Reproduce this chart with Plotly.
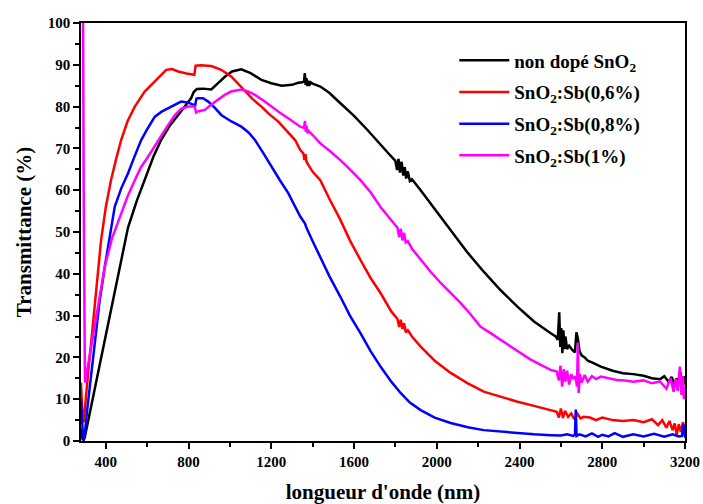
import plotly.graph_objects as go

# ---- data ----
wl_black = [280, 284, 288, 293, 298, 305, 330, 362, 400, 425, 470, 507, 550, 590, 630, 667, 710, 750,
            790, 812, 825, 840, 870, 910, 940, 977, 1010, 1055, 1100, 1152, 1200, 1250, 1300, 1330,
            1350, 1358, 1362, 1366, 1370, 1374, 1378, 1383, 1390, 1400, 1437, 1480, 1534, 1600, 1665,
            1720, 1770, 1800, 1808, 1815, 1822, 1830, 1838, 1845, 1852, 1860, 1870, 1880, 1922, 1990,
            2067, 2150, 2227, 2310, 2391, 2470, 2551, 2575, 2585, 2592, 2597, 2602, 2607, 2612, 2617,
            2622, 2630, 2640, 2655, 2668, 2675, 2682, 2690, 2700, 2715, 2730, 2750, 2793, 2850, 2900,
            2950, 3000, 3040, 3080, 3100, 3120, 3135, 3150, 3160, 3170, 3178, 3186, 3193, 3200]
t_black = [3.0, 1.0, 0.4, 0.3, 0.8, 2.5, 8.5, 16.0, 26.0, 32.0, 42.5, 51.0, 57.5, 63.0, 68.0, 72.0, 75.5, 78.0,
           80.5, 82.0, 83.5, 84.2, 84.3, 84.1, 85.5, 87.2, 88.4, 88.9, 88.0, 86.4, 85.6, 85.0, 85.2, 85.7,
           85.8, 86.0, 88.0, 85.2, 86.8, 84.9, 86.2, 85.0, 85.8, 85.5, 84.8, 83.3, 80.8, 77.8, 74.4,
           71.5, 68.6, 67.0, 64.8, 67.5, 64.2, 66.8, 63.5, 65.5, 62.8, 64.5, 62.2, 62.6, 60.0, 55.5,
           50.5, 45.0, 40.5, 36.0, 32.1, 28.6, 25.8, 25.0, 24.2, 30.8, 22.5, 27.0, 21.0, 26.5, 22.0,
           25.0, 22.0, 22.8, 21.8, 21.2, 26.0, 24.5, 21.5, 20.5, 20.0, 19.2, 18.8, 17.8, 16.8, 16.2,
           16.0, 15.6, 15.0, 14.8, 15.5, 14.2, 15.3, 13.5, 15.0, 13.8, 16.5, 12.8, 15.5, 13.5]

wl_red = [280, 284, 288, 293, 300, 314, 330, 346, 362, 377, 400, 425, 450, 474, 505, 540, 588, 637,
          692, 720, 750, 790, 822, 828, 834, 860, 910, 958, 1006, 1040, 1073, 1110, 1152, 1190, 1234,
          1275, 1315, 1340, 1355, 1360, 1365, 1370, 1380, 1400, 1437, 1480, 1534, 1580, 1631, 1680,
          1728, 1780, 1810, 1818, 1826, 1834, 1842, 1850, 1860, 1880, 1922, 1990, 2067, 2150, 2227,
          2310, 2391, 2470, 2551, 2580, 2590, 2600, 2610, 2620, 2635, 2650, 2665, 2680, 2695, 2711,
          2740, 2770, 2800, 2850, 2900, 2950, 3000, 3040, 3070, 3090, 3110, 3125, 3140, 3150, 3160,
          3170, 3180, 3190, 3200]
t_red = [14.0, 8.0, 5.0, 4.5, 9.0, 16.0, 24.0, 32.0, 40.5, 48.0, 56.0, 62.4, 67.5, 72.0, 76.5, 80.0, 83.6, 86.0,
         88.8, 89.0, 88.4, 87.9, 87.7, 87.6, 89.8, 89.9, 89.7, 88.8, 87.2, 85.5, 83.6, 81.8, 80.0, 78.2, 76.4,
         74.2, 72.0, 69.6, 68.8, 67.2, 68.6, 66.8, 66.0, 64.4, 62.4, 58.0, 52.9, 48.0, 43.3, 39.0,
         35.4, 31.0, 29.2, 27.3, 29.0, 26.8, 28.2, 26.0, 26.5, 25.0, 22.6, 19.2, 16.3, 13.8, 11.8,
         10.5, 9.4, 8.4, 7.4, 7.0, 5.6, 7.8, 5.5, 7.2, 5.8, 6.6, 5.2, 6.5, 5.4, 5.8,
         5.6, 5.0, 5.6, 5.0, 4.8, 5.0, 4.5, 5.2, 3.8, 5.0, 3.2, 4.8, 2.6, 4.2, 1.5,
         4.0, 2.2, 4.5, 3.0]

wl_blue = [280, 283, 286, 290, 294, 300, 310, 320, 346, 370, 395, 420, 443, 475, 507, 540, 571, 605,
           637, 670, 701, 735, 764, 795, 822, 832, 838, 845, 870, 895, 925, 958, 1005, 1055, 1090,
           1121, 1160, 1200, 1240, 1282, 1320, 1340, 1363, 1370, 1400, 1437, 1480, 1534, 1580, 1631,
           1680, 1728, 1780, 1825, 1870, 1922, 1990, 2067, 2150, 2227, 2310, 2391, 2470, 2551, 2600,
           2630, 2660, 2668, 2672, 2676, 2690, 2720, 2750, 2780, 2800, 2830, 2860, 2900, 2950, 3000,
           3050, 3100, 3140, 3170, 3185, 3192, 3196, 3200]
t_blue = [10.0, 6.0, 2.0, 0.6, 0.5, 2.5, 7.5, 12.0, 24.0, 33.5, 41.7, 49.5, 56.0, 60.5, 64.0, 68.2, 72.0, 75.0,
          77.6, 78.8, 79.6, 80.5, 81.2, 81.0, 80.6, 80.3, 81.9, 82.0, 82.0, 81.2, 79.8, 78.0, 76.5, 75.2, 73.8,
          72.0, 69.0, 65.6, 62.5, 59.3, 55.5, 53.7, 52.0, 51.0, 47.8, 44.0, 39.5, 34.5, 30.0, 25.8,
          21.5, 17.8, 14.2, 11.5, 9.2, 7.4, 5.6, 4.3, 3.3, 2.6, 2.2, 1.9, 1.6, 1.4, 1.3,
          1.6, 1.2, 1.5, 7.5, 1.2, 1.6, 1.1, 1.8, 1.0, 1.5, 1.1, 1.9, 1.0, 1.6, 1.1,
          1.7, 1.0, 1.6, 1.1, 1.2, 4.0, 1.5, 0.8]

wl_mag = [281, 284, 287, 290, 293, 296, 299, 305, 320, 346, 370, 395, 430, 474, 505, 540, 570, 604,
          635, 667, 700, 734, 765, 798, 822, 830, 836, 842, 860, 879, 910, 943, 975, 1006, 1055, 1090,
          1121, 1160, 1200, 1240, 1282, 1320, 1340, 1358, 1363, 1366, 1370, 1375, 1380, 1400, 1437, 1480,
          1534, 1580, 1631, 1680, 1728, 1780, 1810, 1818, 1826, 1834, 1842, 1850, 1860, 1880, 1922, 1970,
          2019, 2070, 2116, 2160, 2212, 2260, 2309, 2360, 2406, 2450, 2503, 2550, 2580, 2590, 2598, 2606,
          2614, 2622, 2630, 2640, 2650, 2660, 2670, 2678, 2682, 2686, 2692, 2700, 2715, 2730, 2750, 2770,
          2793, 2830, 2870, 2910, 2950, 3000, 3040, 3080, 3110, 3130, 3145, 3155, 3165, 3175, 3183, 3190,
          3195, 3200]
t_mag = [100.0, 110.0, 100.0, 102.0, 60.0, 25.0, 14.0, 15.5, 20.0, 28.0, 35.0, 41.7, 48.5, 54.5, 58.5, 62.4, 65.5, 68.0,
         70.5, 72.8, 75.5, 78.0, 79.5, 80.0, 80.1, 80.0, 78.6, 78.8, 79.0, 79.2, 80.5, 81.6, 82.8, 83.6, 84.1, 83.6,
         82.8, 81.5, 80.0, 78.6, 77.2, 75.8, 75.2, 74.9, 76.6, 74.0, 75.4, 73.6, 74.2, 73.2, 71.2, 69.5,
         67.2, 65.0, 62.4, 59.5, 56.0, 52.8, 51.0, 48.8, 50.8, 48.0, 49.8, 47.5, 47.8, 46.0, 43.3, 40.5,
         37.8, 35.2, 33.0, 30.5, 27.3, 25.8, 24.2, 22.6, 21.0, 19.6, 18.2, 17.0, 16.6, 14.5, 18.0, 13.0,
         17.2, 14.2, 16.8, 13.5, 16.0, 14.8, 15.5, 13.0, 23.5, 11.5, 16.0, 14.0, 15.8, 14.2, 15.5, 14.8,
         15.4, 15.0, 14.6, 14.5, 14.2, 14.5, 13.8, 14.2, 12.5, 15.0, 11.8, 14.8, 12.0, 17.8, 11.0, 15.5,
         10.0, 13.0]

series_names = ["non dopé SnO<sub>2</sub>", "SnO<sub>2</sub>:Sb(0,6%)",
                "SnO<sub>2</sub>:Sb(0,8%)", "SnO<sub>2</sub>:Sb(1%)"]
series_x = [wl_black, wl_red, wl_blue, wl_mag]
series_y = [t_black, t_red, t_blue, t_mag]
series_colors = ["#000000", "#ff0000", "#0000ff", "#ff00ff"]

x_ticks = [400, 800, 1200, 1600, 2000, 2400, 2800, 3200]
y_ticks = [0, 10, 20, 30, 40, 50, 60, 70, 80, 90, 100]

FONT = "Liberation Serif"

fig = go.Figure()
for i, (name, xs, ys, col) in enumerate(zip(series_names, series_x, series_y, series_colors)):
    fig.add_trace(go.Scatter(x=xs, y=ys, mode="lines", name=name, legendgroup=f"g{i}",
                             line=dict(color=col, width=2.5)))

axis_common = dict(showline=True, linecolor="black", linewidth=1.5, mirror=True,
                   ticks="outside", ticklen=6, tickwidth=1.5, tickcolor="black",
                   showgrid=False, zeroline=False, automargin=False,
                   tickfont=dict(family=FONT, size=15, color="black", weight="bold"))

fig.update_xaxes(range=[280, 3200], tickvals=x_ticks, ticktext=[str(v) for v in x_ticks],
                 minor=dict(dtick=200, tick0=0, ticks="outside", ticklen=4, tickwidth=1.5, tickcolor="black"),
                 title=dict(text="longueur d'onde (nm)", font=dict(family=FONT, size=21, color="black", weight="bold"),
                            standoff=16),
                 **axis_common)
fig.update_yaxes(range=[0, 100], tickvals=y_ticks, ticktext=[str(v) for v in y_ticks],
                 minor=dict(dtick=5, tick0=0, ticks="outside", ticklen=4, tickwidth=1.5, tickcolor="black"),
                 title=dict(text="Transmittance (%)", font=dict(family=FONT, size=21, color="black", weight="bold"),
                            standoff=10),
                 **axis_common)

fig.update_layout(
    width=703, height=504,
    margin=dict(l=81, r=18, t=23, b=63),
    paper_bgcolor="white", plot_bgcolor="white",
    showlegend=True,
    legend=dict(x=0.618, y=0.956, xanchor="left", yanchor="top",
                bgcolor="rgba(0,0,0,0)", borderwidth=0,
                font=dict(family=FONT, size=19, color="black", weight="bold"),
                itemwidth=50, tracegroupgap=4),
)

fig.write_html("out.html")
